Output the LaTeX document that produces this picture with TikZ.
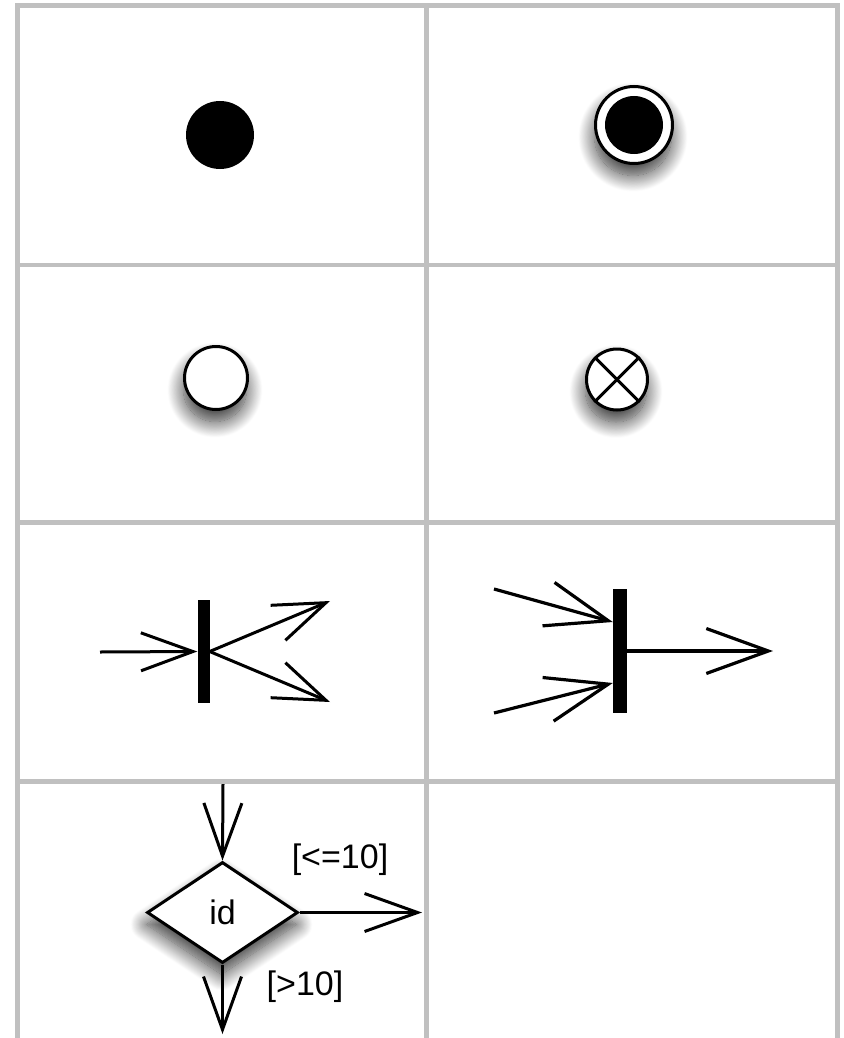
\documentclass[tikz,border=0pt]{standalone}
\usepackage{fontspec}
\setmainfont{Liberation Sans}
\usetikzlibrary{arrows.meta,shapes.geometric,shadows.blur,calc}
\definecolor{gridgray}{RGB}{192,192,192}
\tikzset{
  gridline/.style={draw=gridgray, line width=4.5pt},
  shad/.style={blur shadow={shadow xshift=-1pt, shadow yshift=-12pt, shadow blur radius=16pt, shadow blur steps=20, shadow opacity=80}},
  arrS/.style={line width=3pt, -{Straight Barb[length=52pt,width=38pt]}},
  arrM/.style={line width=3pt, -{Straight Barb[length=53pt,width=38pt]}},
  arrL/.style={line width=3.2pt, -{Straight Barb[length=62pt,width=45pt]}},
  bar/.style={rectangle, fill=black, inner sep=0pt},
  lbl/.style={font=\fontsize{34}{40}\selectfont, inner sep=0pt}
}
\begin{document}
\begin{tikzpicture}[x=1pt,y=-1pt]
\useasboundingbox (0,0) rectangle (843,1038);
% grid
\draw[gridline] (17.5,1038) -- (17.5,5.5) -- (837.5,5.5) -- (837.5,1038);
\draw[gridline] (426.5,5.5) -- (426.5,1038);
\draw[gridline] (17.5,265) -- (837.5,265);
\draw[gridline] (17.5,522.5) -- (837.5,522.5);
\draw[gridline] (17.5,781.5) -- (837.5,781.5);
% initial
\node[circle, fill=black, minimum size=68pt, inner sep=0pt] (init) at (220,135) {};
% final
\node[circle, draw=black, line width=3pt, fill=white, minimum size=77pt, inner sep=0pt, shad] (final) at (634,125) {};
\node[circle, fill=black, minimum size=58pt, inner sep=0pt] (finalin) at (final) {};
% plain circle
\node[circle, draw=black, line width=3pt, fill=white, minimum size=63pt, inner sep=0pt, shad] (plain) at (216,378) {};
% flow final
\node[circle, draw=black, line width=3pt, fill=white, minimum size=61pt, inner sep=0pt, shad] (flowfin) at (617,379.5) {};
\draw[line width=3pt] (flowfin.north west) -- (flowfin.south east);
\draw[line width=3pt] (flowfin.north east) -- (flowfin.south west);
% fork
\node[bar, minimum width=12pt, minimum height=103pt] (fork) at (203.5,651.5) {};
\coordinate (forkin) at (100,652);
\coordinate (forkout1) at (330,601);
\coordinate (forkout2) at (330,702);
\draw[arrS] (forkin) -- (fork.west);
\draw[arrS] (fork.east) -- (forkout1);
\draw[arrS] (fork.east) -- (forkout2);
% join
\node[bar, minimum width=14pt, minimum height=124pt] (join) at (620,651) {};
\coordinate (joinin1) at (494,589);
\coordinate (joinin2) at (494,713);
\coordinate (joinout) at (773,651);
\draw[arrL] (joinin1) -- ($(join.west)+(0,-29)$);
\draw[arrL] (joinin2) -- ($(join.west)+(0,32)$);
\draw[arrL] (join.east) -- (joinout);
% decision
\node[diamond, draw=black, line width=3pt, fill=white, minimum width=151pt, minimum height=101pt, inner sep=0pt, shad, lbl] (dec) at (222.5,912.5) {id};
\coordinate (decin) at (223,784);
\coordinate (decright) at (422,912.5);
\coordinate (decdown) at (222.5,1034);
\draw[arrM] (decin) -- (dec.north);
\draw[arrM] (dec.east) -- (decright);
\draw[arrM] (dec.south) -- (decdown);
\node[lbl] (le) at (340,860) {[<=10]};
\node[lbl] (gt) at (305,987) {[>10]};
\end{tikzpicture}
\end{document}
